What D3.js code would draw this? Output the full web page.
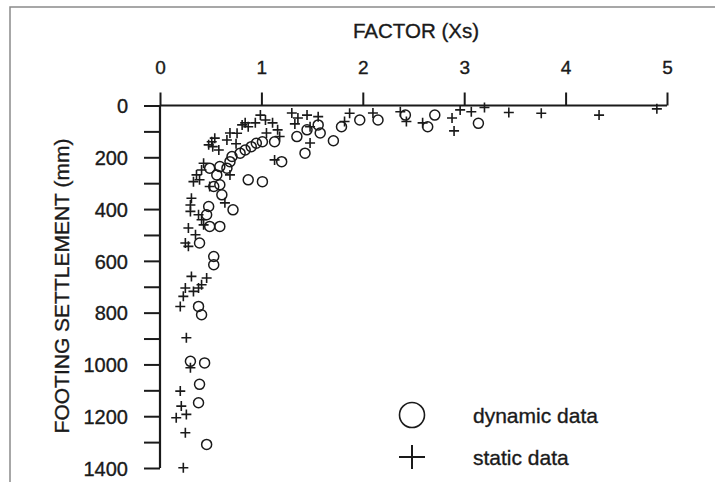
<!DOCTYPE html>
<html>
<head>
<meta charset="utf-8">
<script src="https://cdn.jsdelivr.net/npm/d3@7"></script>
<style>
  html, body { margin: 0; padding: 0; background: #fff; }
  svg { display: block; font-family: "Liberation Sans", Arial, Helvetica, sans-serif; }
  svg text { stroke: #1a1a1a; stroke-width: 0.35px; }
</style>
</head>
<body>
<svg id="chart" width="715" height="482"></svg>
<script>
// Factor Xs against footing settlement (mm)
const xTicks = [0, 1, 2, 3, 4, 5];
const yTicks = [0, 100, 200, 300, 400, 500, 600, 700, 800, 900, 1000, 1100, 1200, 1300, 1400];
const yTickLabels = ["0", "", "200", "", "400", "", "600", "", "800", "", "1000", "", "1200", "", "1400"];

const xTitle = "FACTOR (Xs)";
const yTitle = "FOOTING SETTLEMENT (mm)";
const legendLabels = ["dynamic data", "static data"];

// dynamic data: factor
const dynamicX = [3.14, 2.71, 2.64, 2.42, 2.15, 1.97, 1.79, 1.71, 1.58, 1.56, 1.45, 1.35, 1.43, 1.13, 1.01,
  1.20, 1.01, 0.87, 0.95, 0.90, 0.84, 0.79, 0.71, 0.69, 0.66, 0.59, 0.56, 0.59, 0.49, 0.53, 0.48, 0.72,
  0.46, 0.49, 0.59, 0.39, 0.53, 0.53, 0.38, 0.41, 0.30, 0.44, 0.39, 0.38, 0.46, 0.61];
// dynamic data: settlement (mm)
const dynamicY = [69, 37, 82, 37, 56, 56, 82, 136, 106, 75, 94, 120, 184, 140, 140,
  217, 294, 287, 146, 159, 172, 184, 197, 217, 242, 236, 268, 306, 242, 313, 390, 403,
  422, 467, 467, 531, 583, 615, 776, 808, 988, 994, 1077, 1148, 1309, 345];

// static data: factor
const staticX = [4.90, 4.33, 3.76, 3.44, 3.20, 3.07, 2.96, 2.88, 2.90, 2.59, 2.37, 2.43, 2.10, 1.87, 1.82,
  1.56, 1.45, 1.48, 1.48, 1.30, 1.36, 1.33, 1.16, 1.18, 1.04, 1.11, 1.13, 0.99, 1.05, 0.94, 0.87, 0.84,
  0.81, 0.76, 0.69, 0.66, 0.54, 0.51, 0.48, 0.52, 0.43, 0.41, 0.36, 0.39, 0.33, 0.69, 0.49, 0.31, 0.30,
  0.64, 0.30, 0.38, 0.41, 0.43, 0.28, 0.35, 0.25, 0.28, 0.31, 0.46, 0.41, 0.38, 0.25, 0.33, 0.23, 0.20,
  0.26, 0.30, 0.20, 0.21, 0.16, 0.26, 0.25, 0.23, 0.58, 0.75];
// static data: settlement (mm)
const staticY = [13, 37, 30, 27, 8, 24, 17, 48, 98, 67, 24, 62, 29, 30, 62,
  43, 37, 82, 145, 29, 48, 71, 94, 120, 56, 67, 210, 37, 106, 67, 82, 67,
  75, 107, 106, 133, 126, 140, 152, 159, 223, 249, 268, 287, 294, 268, 313, 358, 384,
  376, 409, 422, 441, 461, 473, 499, 531, 544, 660, 666, 692, 705, 705, 718, 737, 776,
  897, 1013, 1103, 1161, 1206, 1193, 1264, 1399, 172, 148];

const svg = d3.select("#chart");
const ink = "#1a1a1a";
const font = "'Liberation Sans', Arial, sans-serif";

// outer frame (top and left edges)
svg.append("path")
  .attr("d", "M10,482 L10,7 L715,7")
  .attr("fill", "none")
  .attr("stroke", "#8a8a8a")
  .attr("stroke-width", 1.5);

const x = d3.scaleLinear().domain([0, 5]).range([160, 667]);
const y = d3.scaleLinear().domain([0, 1400]).range([105.5, 468]);

// x axis along the top
const xAxis = d3.axisTop(x)
  .tickValues(xTicks)
  .tickFormat(d3.format("d"))
  .tickSize(13)
  .tickSizeOuter(0)
  .tickPadding(19);

const gx = svg.append("g")
  .attr("transform", `translate(0,${y(0)})`)
  .call(xAxis);
gx.select(".domain").remove();
gx.selectAll(".tick line").attr("stroke", ink).attr("stroke-width", 2);
gx.selectAll(".tick text")
  .attr("fill", ink)
  .style("font-size", "19px")
  .style("font-family", font);

// y axis on the left, pointing down
const yAxis = d3.axisLeft(y)
  .tickValues(yTicks)
  .tickFormat((d, i) => yTickLabels[i])
  .tickSize(16)
  .tickSizeOuter(0)
  .tickPadding(16);

const gy = svg.append("g")
  .attr("transform", `translate(${x(0)},0)`)
  .call(yAxis);
gy.select(".domain").remove();
gy.selectAll(".tick line").attr("stroke", ink).attr("stroke-width", 2);
gy.selectAll(".tick text")
  .attr("fill", ink)
  .attr("dy", "0.36em")
  .style("font-size", "20px")
  .style("font-family", font);

// axis lines
svg.append("line")
  .attr("x1", x(0)).attr("x2", x(5))
  .attr("y1", y(0)).attr("y2", y(0))
  .attr("stroke", ink).attr("stroke-width", 2.2);
svg.append("line")
  .attr("x1", x(0)).attr("x2", x(0))
  .attr("y1", y(0)).attr("y2", y(1400))
  .attr("stroke", ink).attr("stroke-width", 2.2);

// axis titles
svg.append("text")
  .attr("x", 416).attr("y", 38)
  .attr("text-anchor", "middle")
  .attr("fill", ink)
  .style("font-size", "20.5px")
  .text(xTitle);

svg.append("text")
  .attr("transform", "translate(69,286) rotate(-90)")
  .attr("text-anchor", "middle")
  .attr("fill", ink)
  .style("font-size", "21px")
  .text(yTitle);

// marks
const dynamicData = dynamicX.map((v, i) => ({ x: v, y: dynamicY[i] }));
const staticData = staticX.map((v, i) => ({ x: v, y: staticY[i] }));

const plus = (r) => `M${-r},0H${r}M0,${-r}V${r}`;

svg.append("g")
  .selectAll("circle")
  .data(dynamicData)
  .join("circle")
  .attr("cx", d => x(d.x))
  .attr("cy", d => y(d.y))
  .attr("r", 5)
  .attr("fill", "none")
  .attr("stroke", ink)
  .attr("stroke-width", 1.5);

svg.append("g")
  .selectAll("path")
  .data(staticData)
  .join("path")
  .attr("transform", d => `translate(${x(d.x)},${y(d.y)})`)
  .attr("d", plus(5))
  .attr("fill", "none")
  .attr("stroke", ink)
  .attr("stroke-width", 1.6);

// legend
const legend = svg.append("g");
legend.append("circle")
  .attr("cx", 412).attr("cy", 415).attr("r", 12.5)
  .attr("fill", "none").attr("stroke", ink).attr("stroke-width", 1.6);
legend.append("path")
  .attr("transform", "translate(412,457)")
  .attr("d", "M-13,0H13M0,-12V12")
  .attr("fill", "none").attr("stroke", ink).attr("stroke-width", 2);
legend.append("text")
  .attr("x", 473).attr("y", 423)
  .attr("fill", ink)
  .style("font-size", "21px")
  .text(legendLabels[0]);
legend.append("text")
  .attr("x", 473).attr("y", 465)
  .attr("fill", ink)
  .style("font-size", "21px")
  .text(legendLabels[1]);
</script>
</body>
</html>
